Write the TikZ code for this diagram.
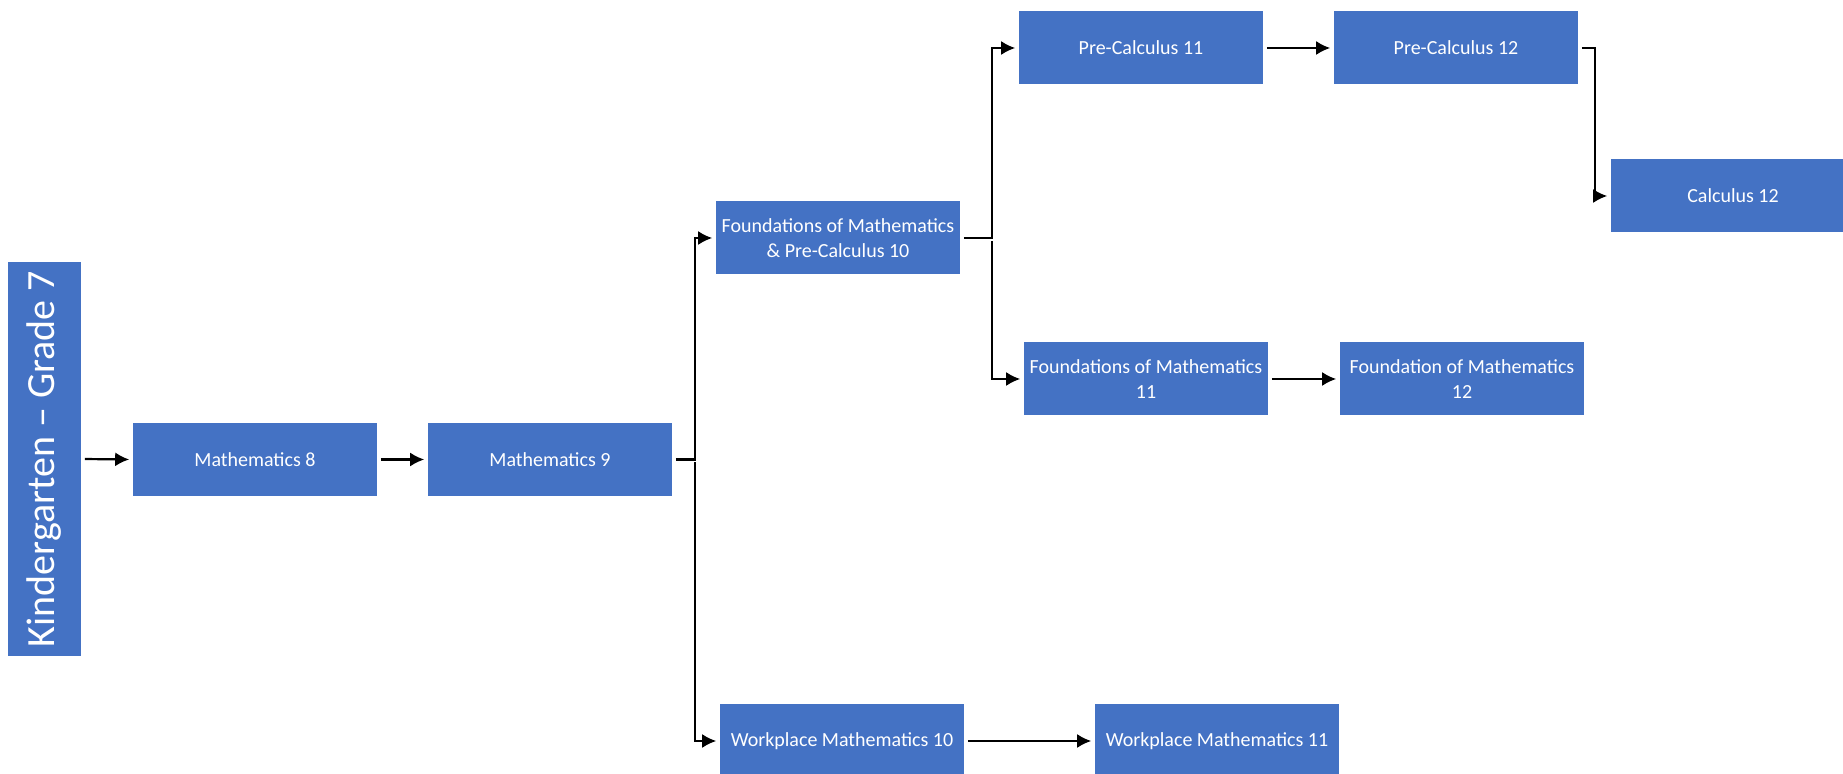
\documentclass[tikz,border=0pt]{standalone}
\usepackage{fontspec}
\setmainfont{Carlito}
\usetikzlibrary{arrows.meta,calc}

\definecolor{boxblue}{HTML}{4472C4}

\tikzset{
  course/.style={fill=boxblue,text=white,inner sep=0pt,align=center,
    minimum width=122pt,minimum height=36.5pt,font=\fontsize{10}{12.5}\selectfont},
  link/.style={->,line width=1.1pt,shorten <=1.5pt,shorten >=1.5pt}
}

\begin{document}
\begin{tikzpicture}[>={Latex[length=7pt,width=7pt]},thick,x=0.5pt,y=-0.5pt]

\useasboundingbox (0,0) rectangle (1843,774);

% grade K-7 column
\node[fill=boxblue,text=white,inner sep=0pt,minimum width=36.5pt,minimum height=197pt,
  font=\fontsize{20}{22}\selectfont] (k7) at (44.5,459) {\rotatebox{90}{Kindergarten – Grade 7}};

\node[course] (m8) at (255,459.5) {Mathematics 8};
\node[course] (m9) at (550,459.5) {Mathematics 9};

\node[course] (fpc10) at (838,238) {Foundations of Mathematics\\ \& Pre-Calculus 10};
\node[course] (w10) at (842,741) {Workplace Mathematics 10};

\node[course] (pc11) at (1141,48) {Pre-Calculus 11};
\node[course] (f11) at (1146,379) {Foundations of Mathematics\\ 11};
\node[course] (w11) at (1217,741) {Workplace Mathematics 11};

\node[course] (pc12) at (1456,48) {Pre-Calculus 12};
\node[course] (f12) at (1462,379) {Foundation of Mathematics\\ 12};

\node[course] (c12) at (1733,196) {Calculus 12};

% straight links
\draw[link] (k7.east) -- (m8.west);
\draw[link] (m8.east) -- (m9.west);
\draw[link] (pc11.east) -- (pc12.west);
\draw[link] (f11.east) -- (f12.west);
\draw[link] (w10.east) -- (w11.west);

% branching links
\coordinate (s9) at ($(m9.east)+(22,0)$);
\draw[link] (m9.east) -- (s9) |- (fpc10.west);
\draw[link] (s9) |- (w10.west);

\coordinate (s10) at ($(fpc10.east)+(31,0)$);
\draw[link] (fpc10.east) -- (s10) |- (pc11.west);
\draw[link] (s10) |- (f11.west);

\coordinate (s12) at ($(pc12.east)+(16,0)$);
\draw[link] (pc12.east) -- (s12) |- (c12.west);

\end{tikzpicture}
\end{document}
